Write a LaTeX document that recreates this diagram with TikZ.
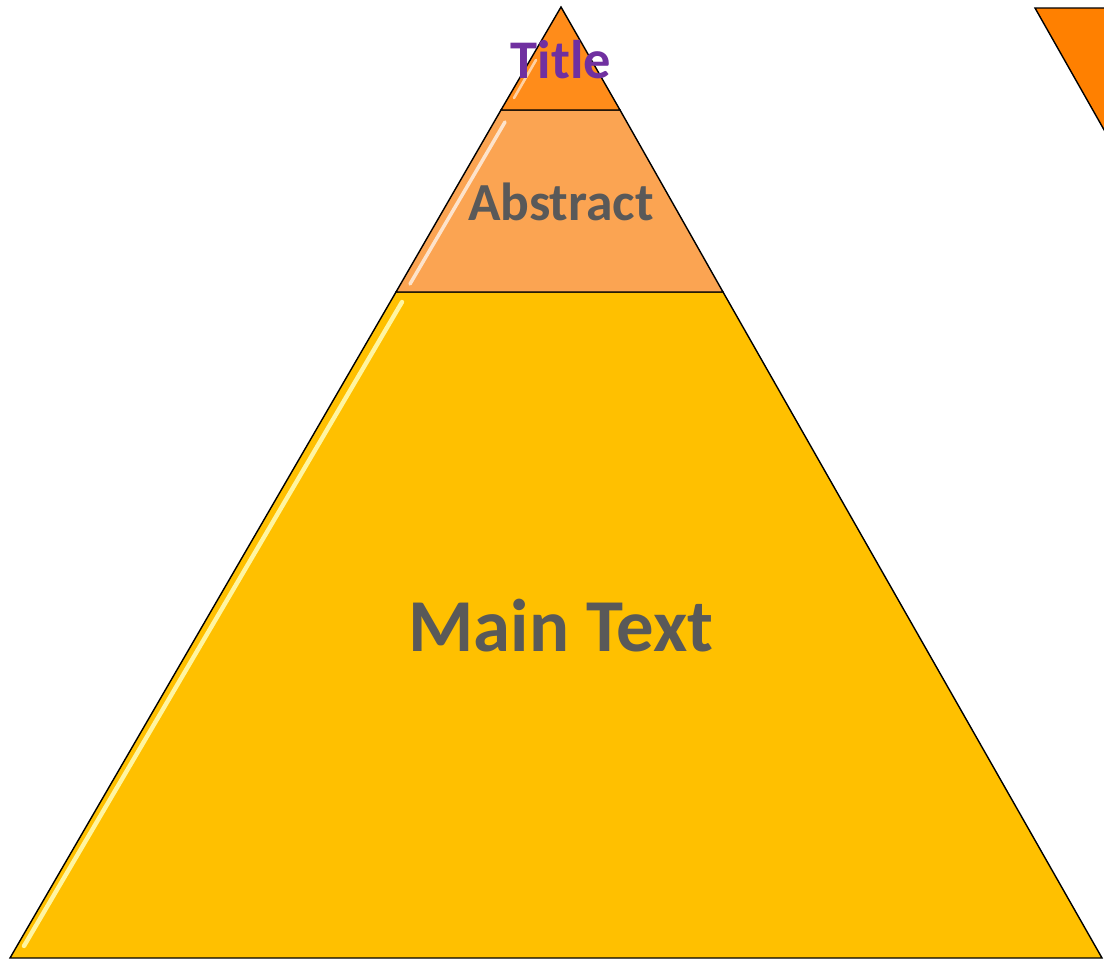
\documentclass[tikz,border=0pt]{standalone}
\usepackage{fontspec}
\setmainfont{Carlito}
\usepackage{tikz}

\definecolor{titleorange}{HTML}{FF8C1A}
\definecolor{abstractorange}{HTML}{FBA452}
\definecolor{mainyellow}{HTML}{FFC000}
\definecolor{darkorange}{HTML}{FF8000}
\definecolor{titlepurple}{HTML}{7030A0}
\definecolor{labelgray}{HTML}{595959}

\begin{document}
\begin{tikzpicture}[x=0.02cm, y=-0.02cm]
\useasboundingbox (0, 0) rectangle (1104, 960);
\clip (0, 0) rectangle (1104, 960);
% pyramid layers
\draw [fill = mainyellow, line width = 0.8pt] (396, 292) -- (723, 292) -- (1102, 958) -- (10, 958) -- cycle;
\draw [fill = abstractorange, line width = 0.8pt] (501, 110) -- (620, 110) -- (723, 292) -- (396, 292) -- cycle;
\draw [fill = titleorange, line width = 0.8pt] (561, 7) -- (620, 110) -- (501, 110) -- cycle;
% glossy edges
\draw [white, opacity = 0.6, line width = 1.5pt, line cap = round] (536, 60) -- (514, 98);
\draw [white, opacity = 0.7, line width = 2pt, line cap = round] (505, 122) -- (410, 284);
\draw [yellow!30, opacity = 0.9, line width = 2.5pt, line cap = round] (402, 302) -- (24, 946);
% second pyramid, cut by the right edge
\draw [fill = darkorange, line width = 0.8pt] (1035, 8) -- (1400, 8) -- (1205, 308) -- cycle;
% labels
\node (title) at (561, 60) {\fontsize{31}{33}\selectfont\bfseries\color{titlepurple} Title};
\node (abstract) at (561, 202) {\fontsize{30.5}{32}\selectfont\bfseries\color{labelgray} Abstract};
\node (maintext) at (561, 626) {\fontsize{42.5}{44}\selectfont\bfseries\color{labelgray} Main Text};
\end{tikzpicture}
\end{document}
